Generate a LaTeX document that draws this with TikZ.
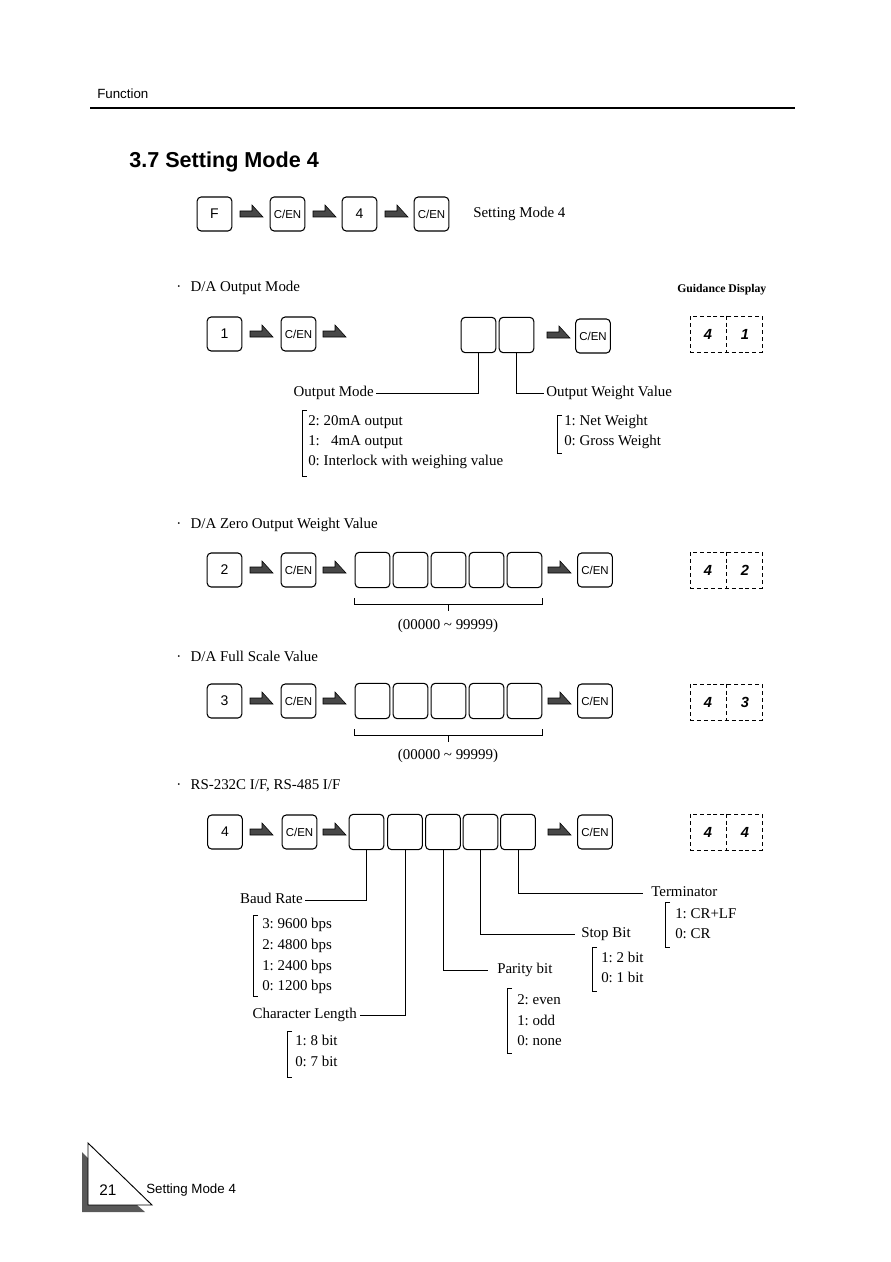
\documentclass[tikz,border=0pt]{standalone}
\usepackage{fontspec}
\setmainfont{Liberation Serif}
\setsansfont{Liberation Sans}
\usetikzlibrary{calc}
\frenchspacing
\begin{document}
\frenchspacing
\begin{tikzpicture}[x=0.75pt,y=-0.75pt,
  every node/.style={inner sep=0pt},
  key/.style={draw,line width=0.8pt,rounded corners=3pt,minimum width=26pt,minimum height=25.5pt,font=\sffamily\fontsize{8.6}{9}\selectfont},
  keyd/.style={key,font=\sffamily\fontsize{10.5}{11}\selectfont},
  cell/.style={draw,line width=0.8pt,rounded corners=3pt,minimum width=26pt,minimum height=26.5pt},
  lbl/.style={font=\frenchspacing\fontsize{11.2}{13}\selectfont,text height=7.5pt,text depth=2.3pt},
  lw/.style={lbl,anchor=west},
  le/.style={lbl,anchor=east},
  conn/.style={line width=0.6pt},
  brk/.style={line width=0.6pt},
  gbox/.style={draw,line width=0.6pt,dash pattern=on 3pt off 2.2pt,minimum width=54pt,minimum height=27pt},
  gdiv/.style={line width=0.6pt,dash pattern=on 3pt off 2.2pt},
  gdig/.style={font=\sffamily\bfseries\itshape\fontsize{11}{12}\selectfont},
  head/.style={anchor=west,font=\fontsize{11.2}{13}\selectfont},
  harrow/.pic={\filldraw[fill=black!72,draw=black,line width=0.4pt] (0,0) -- (0,-6) -- (12,-6) -- (12,-12) -- (23,0) -- cycle;}
]
\useasboundingbox (0,0) rectangle (890,1262);

% header
\node[anchor=west,font=\sffamily\fontsize{10}{12}\selectfont] (fn) at (97,94) {Function};
\draw[line width=1.5pt] (90,108) -- (795,108);
\node[anchor=west,font=\sffamily\bfseries\fontsize{16.2}{19}\selectfont] (title) at (129,162) {3.7 Setting Mode 4};

% row 0
\node[keyd] (k0a) at (214.5,214) {F};
\pic at (240,217) {harrow};
\node[key] (k0b) at (287.5,214) {C/EN};
\pic at (313,217) {harrow};
\node[keyd] (k0c) at (359.5,214) {4};
\pic at (385,217) {harrow};
\node[key] (k0d) at (431.5,214) {C/EN};
\node[lw] (sm) at (473,214) {Setting Mode 4};

% row 1
\node[head] (h1) at (176,288) {\textperiodcentered\hspace{7pt}D/A Output Mode};
\node[anchor=west,font=\bfseries\fontsize{8.8}{10}\selectfont] (gd) at (677,290) {Guidance Display};
\node[keyd] (k1a) at (224.5,334) {1};
\pic at (250,337) {harrow};
\node[key] (k1b) at (298.5,334) {C/EN};
\pic at (323,337) {harrow};
\node[cell] (c11) at (478.5,335) {};
\node[cell] (c12) at (516.5,335) {};
\pic at (547,338) {harrow};
\node[key] (k1c) at (593,336) {C/EN};
\node[gbox] (g1) at (726,334) {};
\draw[gdiv] (g1.north) -- (g1.south);
\node[gdig] (g1a) at (708,334) {4};
\node[gdig] (g1b) at (745,334) {1};

\node[le] (om) at (374,393) {Output Mode};
\draw[conn] (c11.south) |- ([xshift=1.5pt]om.east);
\node[lw] (owv) at (546,393) {Output Weight Value};
\draw[conn] (c12.south) |- ([xshift=-1.5pt]owv.west);

\draw[brk] (307,410) -- (302,410) -- (302,476) -- (307,476);
\node[lw] (om2) at (308,422) {2: 20mA output};
\node[lw] (om1) at (308,442) {1:\ \ \ 4mA output};
\node[lw] (om0) at (308,462) {0: Interlock with weighing value};
\draw[brk] (562,415) -- (557,415) -- (557,453) -- (562,453);
\node[lw] (ow1) at (564,422) {1: Net Weight};
\node[lw] (ow0) at (564,442) {0: Gross Weight};

% row 2
\node[head] (h2) at (176,525) {\textperiodcentered\hspace{7pt}D/A Zero Output Weight Value};
\node[keyd] (k2a) at (224.5,570) {2};
\pic at (250,573) {harrow};
\node[key] (k2b) at (298.5,570) {C/EN};
\pic at (323,573) {harrow};
\node[cell] (c21) at (372.5,570) {};
\node[cell] (c22) at (410.5,570) {};
\node[cell] (c23) at (448.5,570) {};
\node[cell] (c24) at (486.5,570) {};
\node[cell] (c25) at (524.5,570) {};
\pic at (548,573) {harrow};
\node[key] (k2c) at (595,570) {C/EN};
\node[gbox] (g2) at (726,570) {};
\draw[gdiv] (g2.north) -- (g2.south);
\node[gdig] (g2a) at (708,570) {4};
\node[gdig] (g2b) at (745,570) {2};
\draw[brk] (c21.west |- 0,598) -- (c21.west |- 0,604) -- (c25.east |- 0,604) -- (c25.east |- 0,598);
\node[lbl] (r2) at (448,626) {(00000 \textasciitilde{} 99999)};
\draw[brk] (c23.center |- 0,604) -- (c23.center |- 0,611);

% row 3
\node[head] (h3) at (176,656) {\textperiodcentered\hspace{7pt}D/A Full Scale Value};
\node[keyd] (k3a) at (224.5,701) {3};
\pic at (250,704) {harrow};
\node[key] (k3b) at (298.5,701) {C/EN};
\pic at (323,704) {harrow};
\node[cell] (c31) at (372.5,701) {};
\node[cell] (c32) at (410.5,701) {};
\node[cell] (c33) at (448.5,701) {};
\node[cell] (c34) at (486.5,701) {};
\node[cell] (c35) at (524.5,701) {};
\pic at (548,704) {harrow};
\node[key] (k3c) at (595,701) {C/EN};
\node[gbox] (g3) at (726,702) {};
\draw[gdiv] (g3.north) -- (g3.south);
\node[gdig] (g3a) at (708,702) {4};
\node[gdig] (g3b) at (745,702) {3};
\draw[brk] (c31.west |- 0,729) -- (c31.west |- 0,735) -- (c35.east |- 0,735) -- (c35.east |- 0,729);
\node[lbl] (r3) at (448,756) {(00000 \textasciitilde{} 99999)};
\draw[brk] (c33.center |- 0,735) -- (c33.center |- 0,742);

% row 4
\node[head] (h4) at (176,786) {\textperiodcentered\hspace{7pt}RS-232C I/F, RS-485 I/F};
\node[keyd] (k4a) at (225,832) {4};
\pic at (250,835) {harrow};
\node[key] (k4b) at (299.5,832) {C/EN};
\pic at (323,835) {harrow};
\node[cell] (c41) at (366.5,832) {};
\node[cell] (c42) at (405,832) {};
\node[cell] (c43) at (443,832) {};
\node[cell] (c44) at (480.5,832) {};
\node[cell] (c45) at (518,832) {};
\pic at (548,835) {harrow};
\node[key] (k4c) at (595,832) {C/EN};
\node[gbox] (g4) at (726,832) {};
\draw[gdiv] (g4.north) -- (g4.south);
\node[gdig] (g4a) at (708,832) {4};
\node[gdig] (g4b) at (745,832) {4};

\node[le] (baud) at (303,900) {Baud Rate};
\draw[conn] (c41.south) |- ([xshift=1.5pt]baud.east);
\node[le] (clen) at (357,1015) {Character Length};
\draw[conn] (c42.south) |- ([xshift=2pt]clen.east);
\node[lw] (par) at (497,970) {Parity bit};
\draw[conn] (c43.south) |- ([xshift=-7pt]par.west);
\node[lw] (stop) at (581,934) {Stop Bit};
\draw[conn] (c44.south) |- ([xshift=-4.5pt]stop.west);
\node[lw] (term) at (651,893) {Terminator};
\draw[conn] (c45.south) |- ([xshift=-6pt]term.west);

% options row 4
\draw[brk] (258,915) -- (253,915) -- (253,996) -- (258,996);
\node[lw] (b3) at (262,925) {3: 9600 bps};
\node[lw] (b2) at (262,946) {2: 4800 bps};
\node[lw] (b1) at (262,967) {1: 2400 bps};
\node[lw] (b0) at (262,987) {0: 1200 bps};
\draw[brk] (292,1031) -- (287,1031) -- (287,1077) -- (292,1077);
\node[lw] (cl1) at (295,1042) {1: 8 bit};
\node[lw] (cl0) at (295,1063) {0: 7 bit};
\draw[brk] (512,988) -- (507,988) -- (507,1053) -- (512,1053);
\node[lw] (p2) at (517,1001) {2: even};
\node[lw] (p1) at (517,1022) {1: odd};
\node[lw] (p0) at (517,1042) {0: none};
\draw[brk] (597,947) -- (592,947) -- (592,991) -- (597,991);
\node[lw] (s1) at (601,959) {1: 2 bit};
\node[lw] (s0) at (601,979) {0: 1 bit};
\draw[brk] (670,902) -- (665,902) -- (665,947) -- (670,947);
\node[lw] (t1) at (675,915) {1: CR+LF};
\node[lw] (t0) at (675,935) {0: CR};

% footer
\fill[black!65] (82,1152) -- (88,1158) -- (88,1205) -- (137,1205) -- (145,1212) -- (82,1212) -- cycle;
\draw[line width=0.7pt] (88,1143) -- (88,1205) -- (152,1205) -- cycle;
\node[font=\sffamily\fontsize{11.5}{13}\selectfont] (pg) at (108,1190) {21};
\node[anchor=west,font=\sffamily\fontsize{10}{12}\selectfont] (ft) at (146,1190) {Setting Mode 4};
\end{tikzpicture}
\end{document}
